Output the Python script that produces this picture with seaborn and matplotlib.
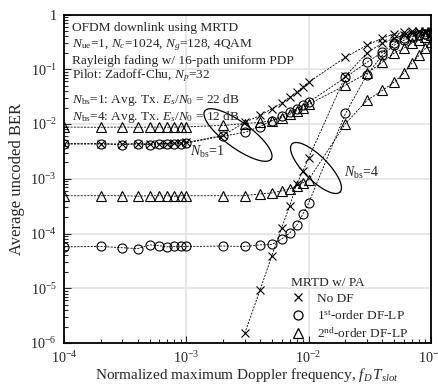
import numpy as np
import pandas as pd
import matplotlib
matplotlib.use("Agg")
import matplotlib.pyplot as plt
import seaborn as sns
from matplotlib.lines import Line2D
from matplotlib.ticker import LogLocator, FuncFormatter, NullFormatter

# normalized max Doppler frequency f_D*T_slot
fd = [1e-4, 2e-4, 3e-4, 4e-4, 5e-4, 6e-4, 7e-4, 8e-4, 9e-4,
      1e-3, 2e-3, 3e-3, 4e-3, 5e-3, 6e-3, 7e-3, 8e-3, 9e-3,
      1e-2, 2e-2, 3e-2, 4e-2, 5e-2, 6e-2, 7e-2, 8e-2, 9e-2, 1e-1]
fd_nodf4 = fd[11:]   # below 3e-3 no errors for N_bs=4 w/o DF

# N_bs = 1
ber_nodf_1 = [4.4e-3, 4.4e-3, 4.3e-3, 4.4e-3, 4.3e-3, 4.4e-3, 4.4e-3, 4.5e-3, 4.5e-3,
              4.6e-3, 6.2e-3, 1.07e-2, 1.43e-2, 1.9e-2, 2.4e-2, 3.1e-2, 3.8e-2, 4.8e-2,
              5.8e-2, 0.166, 0.275, 0.37, 0.44, 0.47, 0.49, 0.5, 0.5, 0.5]
ber_lp1_1 = [4.3e-3, 4.3e-3, 4.2e-3, 4.3e-3, 4.2e-3, 4.3e-3, 4.3e-3, 4.4e-3, 4.4e-3,
             4.5e-3, 6.0e-3, 7.0e-3, 9.0e-3, 1.15e-2, 1.4e-2, 1.63e-2, 1.9e-2, 2.2e-2,
             2.5e-2, 7.1e-2, 0.134, 0.205, 0.30, 0.37, 0.41, 0.43, 0.44, 0.45]
ber_lp2_1 = [8.8e-3, 8.7e-3, 8.8e-3, 8.7e-3, 8.8e-3, 8.8e-3, 8.7e-3, 8.8e-3, 8.8e-3,
             8.9e-3, 9.4e-3, 1.02e-2, 1.07e-2, 1.15e-2, 1.3e-2, 1.5e-2, 1.75e-2, 2.0e-2,
             2.3e-2, 5.1e-2, 8.5e-2, 0.134, 0.197, 0.243, 0.30, 0.34, 0.39, 0.42]

# N_bs = 4
ber_nodf_4 = [1.5e-6, 9.2e-6, 3.9e-5, 1.26e-4, 3.2e-4, 8.1e-4, 1.4e-3,
              2.4e-3, 7.5e-2, 0.2, 0.3, 0.37, 0.42, 0.45, 0.47, 0.48, 0.48]
ber_lp1_4 = [5.7e-5, 5.8e-5, 5.5e-5, 5.3e-5, 6.2e-5, 6.0e-5, 5.7e-5, 5.8e-5, 5.8e-5,
             5.8e-5, 5.9e-5, 5.8e-5, 6.2e-5, 6.3e-5, 7.9e-5, 1.02e-4, 1.43e-4, 2.3e-4,
             3.6e-4, 1.56e-2, 8.0e-2, 0.18, 0.275, 0.34, 0.39, 0.42, 0.44, 0.45]
ber_lp2_4 = [4.9e-4, 4.9e-4, 4.9e-4, 4.8e-4, 4.9e-4, 4.9e-4, 4.9e-4, 4.8e-4, 4.9e-4,
             4.9e-4, 4.9e-4, 4.9e-4, 5.3e-4, 5.5e-4, 6.0e-4, 6.6e-4, 7.4e-4, 8.5e-4,
             9.6e-4, 1.02e-2, 2.7e-2, 4.1e-2, 5.8e-2, 8.5e-2, 0.13, 0.18, 0.24, 0.31]

schemes = ["No DF", "1$^{\\mathrm{st}}$-order DF-LP", "2$^{\\mathrm{nd}}$-order DF-LP"]
mk = {schemes[0]: ("x", 5.5), schemes[1]: ("o", 6.5), schemes[2]: ("^", 7)}

rows = []
for nbs, sets in [(1, [(fd, ber_nodf_1), (fd, ber_lp1_1), (fd, ber_lp2_1)]),
                  (4, [(fd_nodf4, ber_nodf_4), (fd, ber_lp1_4), (fd, ber_lp2_4)])]:
    for s, (xs, ys) in zip(schemes, sets):
        for x, y in zip(xs, ys):
            rows.append({"fd": x, "ber": y, "nbs": nbs, "scheme": s})
df = pd.DataFrame(rows)

sns.set_style("ticks")
plt.rcParams["font.family"] = ["Liberation Serif", "DejaVu Serif"]
plt.rcParams["mathtext.fontset"] = "custom"
plt.rcParams["mathtext.rm"] = "Liberation Serif"
plt.rcParams["mathtext.it"] = "Liberation Serif:italic"
plt.rcParams["mathtext.bf"] = "Liberation Serif:bold"

fig = plt.figure(figsize=(4.39, 3.85), dpi=100)
L, R, T, B = 64, 431, 14.5, 343
ax = fig.add_axes([L / 439, 1 - B / 385, (R - L) / 439, (B - T) / 385])

for (nbs, s), g in df.groupby(["nbs", "scheme"], sort=False):
    m, ms = mk[s]
    sns.lineplot(data=g, x="fd", y="ber", ax=ax, color="black", lw=0.6,
                 linestyle=(0, (2.5, 1.5)), marker=m, markersize=ms,
                 markerfacecolor="none", markeredgecolor="black",
                 markeredgewidth=0.8, legend=False)

ax.set_xscale("log")
ax.set_yscale("log")
ax.set_xlim(1e-4, 1e-1)
ax.set_ylim(1e-6, 1)

def dec(v, pos):
    if abs(v - 1) < 1e-9:
        return "1"
    return r"$10^{%d}$" % int(round(np.log10(v)))

for a in (ax.xaxis, ax.yaxis):
    a.set_major_locator(LogLocator(base=10, numticks=10))
    a.set_minor_locator(LogLocator(base=10, subs=np.arange(2, 10), numticks=10))
    a.set_major_formatter(FuncFormatter(dec))
    a.set_minor_formatter(NullFormatter())
ax.tick_params(which="both", direction="in", labelsize=10.3, width=0.8)
ax.tick_params(which="major", length=5, pad=5)
ax.tick_params(which="minor", length=3)
ax.grid(True, which="major", color="#e3e3e3", lw=1.2)
ax.set_axisbelow(True)
for sp in ax.spines.values():
    sp.set_linewidth(1.3)
    sp.set_color("black")

ax.set_xlabel("Normalized maximum Doppler frequency, $f_D\\,T_{slot}$", fontsize=11, labelpad=0)
ax.set_ylabel("Average uncoded BER", fontsize=12, labelpad=4)

# description text
def fy(py):
    return (B - py) / (B - T)
tx = (72 - L) / (R - L)
lines = [(28, "OFDM downlink using MRTD"),
         (45, "$N_{\\mathrm{ue}}$=1, $N_c$=1024, $N_g$=128, 4QAM"),
         (61, "Rayleigh fading w/ 16-path uniform PDP"),
         (76, "Pilot: Zadoff-Chu, $N_p$=32"),
         (100, "$N_{\\mathrm{bs}}$=1: Avg. Tx. $E_s/N_0$ = 22 dB"),
         (117, "$N_{\\mathrm{bs}}$=4: Avg. Tx. $E_s/N_0$ = 12 dB")]
for py, s in lines:
    ax.text(tx, fy(py), s, transform=ax.transAxes, fontsize=9.6, va="center", ha="left")

# grouping ellipses
def ring(cx, cy, a, b, ang):
    t = np.linspace(0, 2 * np.pi, 200)
    th = np.deg2rad(ang)
    px = cx + a * np.cos(t) * np.cos(th) - b * np.sin(t) * np.sin(th)
    py = cy + a * np.cos(t) * np.sin(th) + b * np.sin(t) * np.cos(th)
    ax.plot((px - L) / (R - L), fy(py), transform=ax.transAxes, color="black", lw=0.9)

ring(238, 135, 41, 13, 36)
ring(316, 168, 34, 12, 45)
ax.text((207 - L) / (R - L), fy(152), "$N_{\\mathrm{bs}}$=1", transform=ax.transAxes,
        fontsize=10, ha="center", va="center")
ax.text((361 - L) / (R - L), fy(173), "$N_{\\mathrm{bs}}$=4", transform=ax.transAxes,
        fontsize=10, ha="center", va="center")

handles = [Line2D([], [], ls="none", marker=mk[s][0], markersize=mk[s][1],
                  markerfacecolor="none", markeredgecolor="black", markeredgewidth=0.9)
           for s in schemes]
leg = ax.legend(handles, schemes, title="MRTD w/ PA", loc="lower left",
                bbox_to_anchor=((282 - L) / (R - L), -0.022), frameon=False,
                fontsize=9.6, title_fontsize=9.6, alignment="left",
                handlelength=1.0, handletextpad=0.9, labelspacing=0.28, borderpad=0.2)

fig.savefig("out.png", dpi=100)
